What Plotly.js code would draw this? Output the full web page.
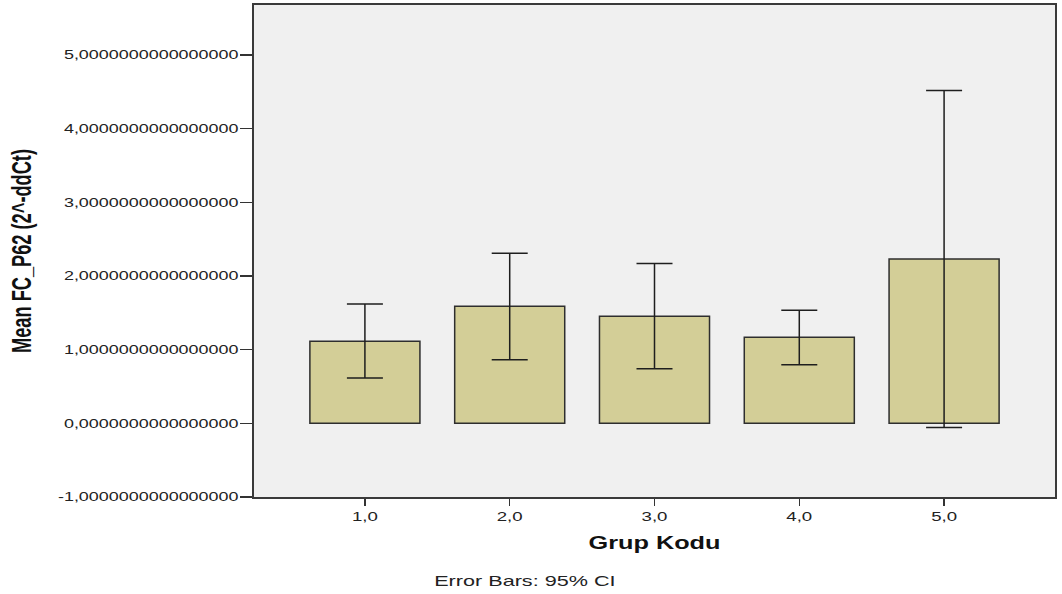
<!DOCTYPE html>
<html>
<head>
<meta charset="utf-8">
<script src="https://cdn.plot.ly/plotly-3.0.1.min.js"></script>
<style>
  html, body { margin: 0; padding: 0; background: #ffffff; }
  #chart { width: 1062px; height: 594px; }
</style>
</head>
<body>
<div id="chart"></div>
<script>
// ---- data ----
const groups = [1, 2, 3, 4, 5];
const groupLabels = ['1,0', '2,0', '3,0', '4,0', '5,0'];
const meanFC = [1.115, 1.59, 1.454, 1.17, 2.23];
const ciUpper = [1.62, 2.31, 2.17, 1.535, 4.52];
const ciLower = [0.614, 0.863, 0.741, 0.795, -0.058];
const yTickVals = [-1, 0, 1, 2, 3, 4, 5];
const yTickLabels = [
  '-1,0000000000000000',
  '0,0000000000000000',
  '1,0000000000000000',
  '2,0000000000000000',
  '3,0000000000000000',
  '4,0000000000000000',
  '5,0000000000000000'
];
const xTitle = 'Grup Kodu';
const yTitle = 'Mean FC_P62 (2^-ddCt)';
const footnote = 'Error Bars: 95% CI';

const errPlus = meanFC.map((m, i) => ciUpper[i] - m);
const errMinus = meanFC.map((m, i) => m - ciLower[i]);

const FONT = 'Liberation Sans, Arial, Helvetica, sans-serif';

const trace = {
  type: 'bar',
  x: groups,
  y: meanFC,
  width: 0.76,
  marker: { color: '#d3ce97', line: { color: '#2e2e2e', width: 1.5 } },
  error_y: {
    type: 'data',
    symmetric: false,
    array: errPlus,
    arrayminus: errMinus,
    color: '#1e1e1e',
    thickness: 1.5,
    width: 18
  },
  hoverinfo: 'skip'
};

const layout = {
  width: 1062,
  height: 594,
  margin: { l: 254, r: 7, t: 5, b: 97, pad: 0 },
  paper_bgcolor: '#ffffff',
  plot_bgcolor: '#f0f0f0',
  showlegend: false,
  font: { family: FONT, color: '#222222' },
  xaxis: {
    range: [0.234, 5.766],
    tickvals: groups,
    ticktext: groupLabels,
    ticks: 'outside',
    ticklen: 7,
    tickwidth: 1.5,
    tickcolor: '#333333',
    showline: true,
    linecolor: '#3a3a3a',
    linewidth: 2,
    mirror: true,
    showgrid: false,
    zeroline: false,
    tickfont: { family: FONT, size: 12.5, color: '#222222' },
    title: { text: xTitle, font: { family: FONT, size: 17.5, weight: 700, color: '#111111' }, standoff: 14 },
    fixedrange: true
  },
  yaxis: {
    range: [-1, 5.68],
    tickvals: yTickVals,
    ticktext: yTickLabels,
    ticks: 'outside',
    ticklen: 12,
    tickwidth: 1.5,
    tickcolor: '#333333',
    ticklabelstandoff: -1,
    showline: true,
    linecolor: '#3a3a3a',
    linewidth: 2,
    mirror: true,
    showgrid: false,
    zeroline: false,
    tickfont: { family: FONT, size: 12.5, color: '#222222' },
    title: { text: yTitle, font: { family: FONT, size: 27, weight: 700, color: '#111111' }, standoff: 73 },
    fixedrange: true
  },
  annotations: [{
    text: footnote,
    xref: 'paper', yref: 'paper',
    x: (525 - 254) / 801, y: (497 - 581) / 492,
    xanchor: 'center', yanchor: 'middle',
    showarrow: false,
    font: { family: FONT, size: 14.5, color: '#222222' }
  }]
};

function stretch(nodes, factor) {
  nodes.forEach(el => {
    const w = el.getComputedTextLength();
    if (w > 0) {
      el.setAttribute('textLength', (w * factor).toFixed(2));
      el.setAttribute('lengthAdjust', 'spacingAndGlyphs');
    }
  });
}

Plotly.newPlot('chart', [trace], layout, { displayModeBar: false, staticPlot: true }).then(gd => {
  // the reference image is stretched horizontally; mimic it on the text
  stretch(gd.querySelectorAll('.ytick text'), 1.435);
  stretch(gd.querySelectorAll('.xtick text'), 1.49);
  const xt = gd.querySelector('.g-xtitle text');
  if (xt) stretch([xt], 132 / xt.getComputedTextLength());
  stretch(gd.querySelectorAll('.annotation-text'), 1.49);
  const yt = gd.querySelector('.g-ytitle text');
  if (yt) stretch([yt], 204 / yt.getComputedTextLength());
});
</script>
</body>
</html>
